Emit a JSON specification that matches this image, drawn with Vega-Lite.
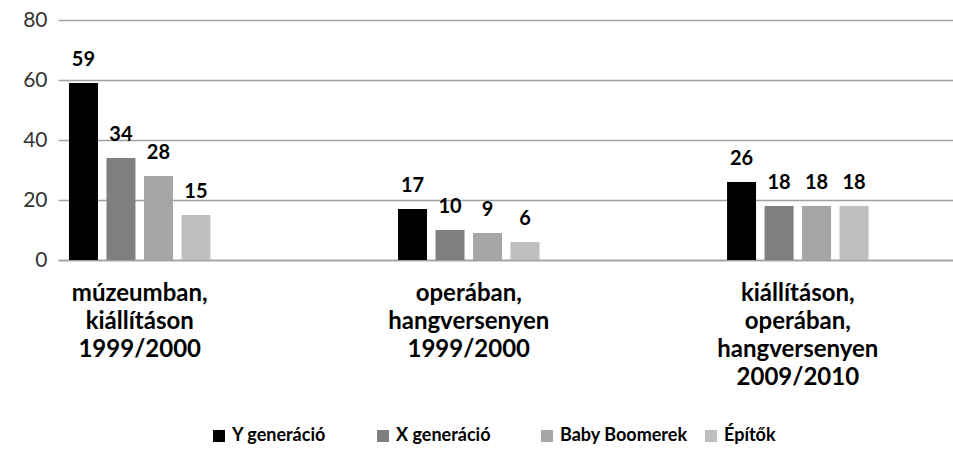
{
  "$schema": "https://vega.github.io/schema/vega-lite/v6.json",
  "width": 895,
  "height": 240,
  "autosize": "none",
  "padding": {"left": 58, "top": 20, "right": 0, "bottom": 192},
  "background": "#ffffff",
  "config": {"view": {"stroke": null}, "font": "Lato"},
  "data": {
    "values": [
      {"cat": "múzeumban,|kiállításon|1999/2000", "gen": "Y generáció", "value": 59},
      {"cat": "múzeumban,|kiállításon|1999/2000", "gen": "X generáció", "value": 34},
      {"cat": "múzeumban,|kiállításon|1999/2000", "gen": "Baby Boomerek", "value": 28},
      {"cat": "múzeumban,|kiállításon|1999/2000", "gen": "Építők", "value": 15},
      {"cat": "operában,|hangversenyen|1999/2000", "gen": "Y generáció", "value": 17},
      {"cat": "operában,|hangversenyen|1999/2000", "gen": "X generáció", "value": 10},
      {"cat": "operában,|hangversenyen|1999/2000", "gen": "Baby Boomerek", "value": 9},
      {"cat": "operában,|hangversenyen|1999/2000", "gen": "Építők", "value": 6},
      {"cat": "kiállításon,|operában,|hangversenyen|2009/2010", "gen": "Y generáció", "value": 26},
      {"cat": "kiállításon,|operában,|hangversenyen|2009/2010", "gen": "X generáció", "value": 18},
      {"cat": "kiállításon,|operában,|hangversenyen|2009/2010", "gen": "Baby Boomerek", "value": 18},
      {"cat": "kiállításon,|operában,|hangversenyen|2009/2010", "gen": "Építők", "value": 18}
    ]
  },
  "encoding": {
    "x": {
      "field": "cat", "type": "nominal", "sort": null,
      "scale": {"paddingInner": 0.57, "paddingOuter": 0.145, "align": 0.115},
      "axis": {
        "title": null, "labelAngle": 0, "labelExpr": "split(datum.label, '|')",
        "labelFont": "Lato", "labelFontWeight": "bold", "labelFontSize": 24, "labelColor": "#000000",
        "labelLineHeight": 28, "labelBaseline": "top", "labelPadding": 21, "ticks": false,
        "domainColor": "#a0a0a0", "domainWidth": 1.5, "labelLimit": 400
      }
    },
    "xOffset": {
      "field": "gen", "type": "nominal",
      "sort": ["Y generáció", "X generáció", "Baby Boomerek", "Építők"],
      "scale": {"paddingInner": 0.227, "paddingOuter": 0}
    },
    "y": {
      "field": "value", "type": "quantitative",
      "scale": {"domain": [0, 80]},
      "axis": {
        "title": null, "values": [0, 20, 40, 60, 80], "domain": false, "ticks": false,
        "gridColor": "#a0a0a0", "gridWidth": 1.5, "labelFont": "Lato", "labelFontSize": 21,
        "labelColor": "#333333", "labelPadding": 11
      }
    }
  },
  "layer": [
    {
      "mark": {"type": "bar"},
      "encoding": {
        "color": {
          "field": "gen", "type": "nominal",
          "sort": ["Y generáció", "X generáció", "Baby Boomerek", "Építők"],
          "scale": {
            "domain": ["Y generáció", "X generáció", "Baby Boomerek", "Építők"],
            "range": ["#000000", "#7f7f7f", "#a6a6a6", "#bfbfbf"]
          },
          "legend": {
            "title": null, "orient": "none", "direction": "horizontal",
            "legendX": 152, "legendY": 407,
            "symbolType": "square", "symbolSize": 144, "symbolStrokeWidth": 0,
            "labelFont": "Lato", "labelFontWeight": "bold", "labelFontSize": 18, "labelColor": "#000000",
            "labelOffset": 4, "columnPadding": 14, "gridAlign": "all"
          }
        }
      }
    },
    {
      "mark": {"type": "text", "dy": -17, "baseline": "alphabetic", "font": "Lato", "fontWeight": "bold", "fontSize": 20, "color": "#000000"},
      "encoding": {"text": {"field": "value", "type": "quantitative"}}
    }
  ]
}
